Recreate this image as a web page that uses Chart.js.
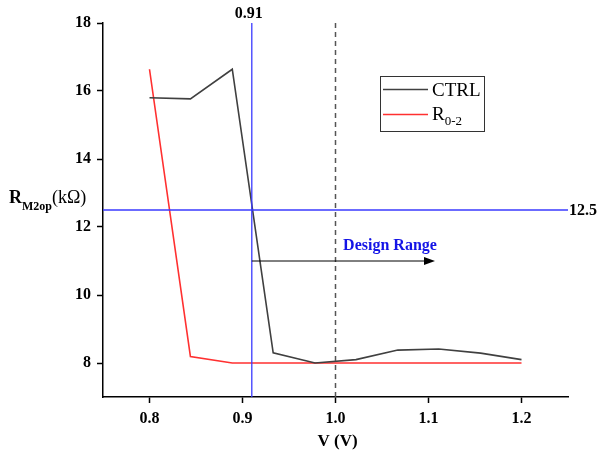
<!DOCTYPE html>
<html>
<head>
<meta charset="utf-8">
<script src="https://cdn.jsdelivr.net/npm/chart.js@4"></script>
<style>
  body { margin: 0; background: #fff; }
  #wrap { width: 598px; height: 453px; position: relative; }
</style>
</head>
<body>
<div id="wrap"><canvas id="chart"></canvas></div>
<script>
// Data
var voltage = [0.8, 0.844, 0.889, 0.933, 0.978, 1.022, 1.067, 1.111, 1.156, 1.2];
var ctrl = [15.8, 15.77, 16.64, 8.3, 8.0, 8.1, 8.38, 8.41, 8.29, 8.1];
var r02 = [16.64, 8.19, 8.0, 8.0, 8.0, 8.0, 8.0, 8.0, 8.0, 8.0];
var xTicks = [0.8, 0.9, 1.0, 1.1, 1.2];
var yTicks = [8, 10, 12, 14, 16, 18];

// Reference marks
var vLine = 0.91;
var hLine = 12.5;
var dashLine = 1.0;
var arrowFrom = 0.91, arrowTo = 1.107, arrowY = 11.0;

var serif = '"Liberation Serif", "Times New Roman", serif';

function pts(ys) {
    return voltage.map(function (v, i) { return { x: v, y: ys[i] }; });
}

// Extra drawing: reference lines, arrow, labels, legend, axis titles
var overlay = {
    id: 'overlay',
    afterDatasetsDraw: function (chart) {
        var c = chart.ctx, xs = chart.scales.x, ys = chart.scales.y, a = chart.chartArea;
        c.save();

        // dashed line at 1.0
        var xd = xs.getPixelForValue(dashLine);
        c.strokeStyle = '#555';
        c.lineWidth = 1.5;
        c.setLineDash([5, 4]);
        c.beginPath(); c.moveTo(xd, a.top); c.lineTo(xd, a.bottom); c.stroke();
        c.setLineDash([]);

        // blue lines
        var xv = xs.getPixelForValue(vLine);
        var yh = ys.getPixelForValue(hLine);
        c.strokeStyle = '#3a3aff';
        c.lineWidth = 1.3;
        c.beginPath(); c.moveTo(xv, a.top); c.lineTo(xv, a.bottom); c.stroke();
        c.beginPath(); c.moveTo(a.left, yh); c.lineTo(a.right, yh); c.stroke();

        // arrow
        var x1 = xs.getPixelForValue(arrowFrom), x2 = xs.getPixelForValue(arrowTo), ya = ys.getPixelForValue(arrowY);
        c.strokeStyle = '#000'; c.fillStyle = '#000'; c.lineWidth = 1;
        c.beginPath(); c.moveTo(x1, ya); c.lineTo(x2 - 8, ya); c.stroke();
        c.beginPath(); c.moveTo(x2, ya); c.lineTo(x2 - 11, ya - 4); c.lineTo(x2 - 11, ya + 4); c.closePath(); c.fill();

        // labels
        c.font = 'bold 16px ' + serif;
        c.fillStyle = '#000';
        c.textBaseline = 'middle';
        c.textAlign = 'center';
        c.fillText('0.91', xv - 3, 14);
        c.textAlign = 'left';
        c.fillText('12.5', a.right + 1, yh + 1);
        c.fillStyle = '#1414e6';
        c.textAlign = 'center';
        c.fillText('Design Range', x2 - 45, ya - 15);

        // x title
        c.fillStyle = '#000';
        c.font = 'bold 17px ' + serif;
        c.fillText('V (V)', (a.left + a.right) / 2 + 2, 442);

        // y title
        c.textAlign = 'left';
        c.textBaseline = 'alphabetic';
        c.font = 'bold 18px ' + serif;
        c.fillText('R', 9, 203);
        var w = c.measureText('R').width;
        c.font = 'bold 12px ' + serif;
        c.fillText('M2op', 9 + w, 210);
        w += c.measureText('M2op').width;
        c.font = '18px ' + serif;
        c.fillText('(k\u03A9)', 9 + w, 203);

        // legend
        c.strokeStyle = '#333'; c.lineWidth = 1;
        c.strokeRect(380.5, 76.5, 104, 55);
        c.lineWidth = 1.5;
        c.strokeStyle = '#404040';
        c.beginPath(); c.moveTo(383, 89.5); c.lineTo(428, 89.5); c.stroke();
        c.strokeStyle = '#ff3030';
        c.beginPath(); c.moveTo(383, 114.5); c.lineTo(428, 114.5); c.stroke();
        c.fillStyle = '#000';
        c.font = '19px ' + serif;
        c.fillText('CTRL', 432, 96);
        c.fillText('R', 432, 120);
        var rw = c.measureText('R').width;
        c.font = '13px ' + serif;
        c.fillText('0-2', 432 + rw, 125);

        c.restore();
    }
};

var ctx = document.getElementById('chart').getContext('2d');
var chart = new Chart(ctx, {
    type: 'line',
    data: {
        datasets: [{
            label: 'CTRL',
            data: pts(ctrl),
            borderColor: '#404040',
            borderWidth: 1.6,
            pointRadius: 0,
            fill: false,
            tension: 0
        }, {
            label: 'R0-2',
            data: pts(r02),
            borderColor: '#ff3030',
            borderWidth: 1.6,
            pointRadius: 0,
            fill: false,
            tension: 0
        }]
    },
    options: {
        responsive: true,
        maintainAspectRatio: false,
        animation: false,
        layout: { padding: { top: 23, right: 30, bottom: 0, left: 0 } },
        plugins: {
            legend: { display: false },
            tooltip: { enabled: false }
        },
        scales: {
            x: {
                type: 'linear',
                min: 0.75,
                max: 1.25,
                afterBuildTicks: function (s) { s.ticks = xTicks.map(function (v) { return { value: v }; }); },
                afterFit: function (s) { s.height = 56; },
                ticks: {
                    color: '#000',
                    padding: 6,
                    font: { family: serif, size: 16, weight: 'bold' },
                    callback: function (v) { return Number(v).toFixed(1); }
                },
                grid: { drawOnChartArea: false, drawTicks: true, tickLength: 6, color: '#000', tickWidth: 1.5 },
                border: { display: true, color: '#000', width: 1.5 }
            },
            y: {
                min: 7,
                max: 18,
                afterBuildTicks: function (s) { s.ticks = yTicks.map(function (v) { return { value: v }; }); },
                afterFit: function (s) { s.width = 103; },
                ticks: {
                    color: '#000',
                    padding: 6,
                    font: { family: serif, size: 16, weight: 'bold' }
                },
                grid: { drawOnChartArea: false, drawTicks: true, tickLength: 6, color: '#000', tickWidth: 1.5 },
                border: { display: true, color: '#000', width: 1.5 }
            }
        }
    },
    plugins: [overlay]
});
</script>
</body>
</html>
